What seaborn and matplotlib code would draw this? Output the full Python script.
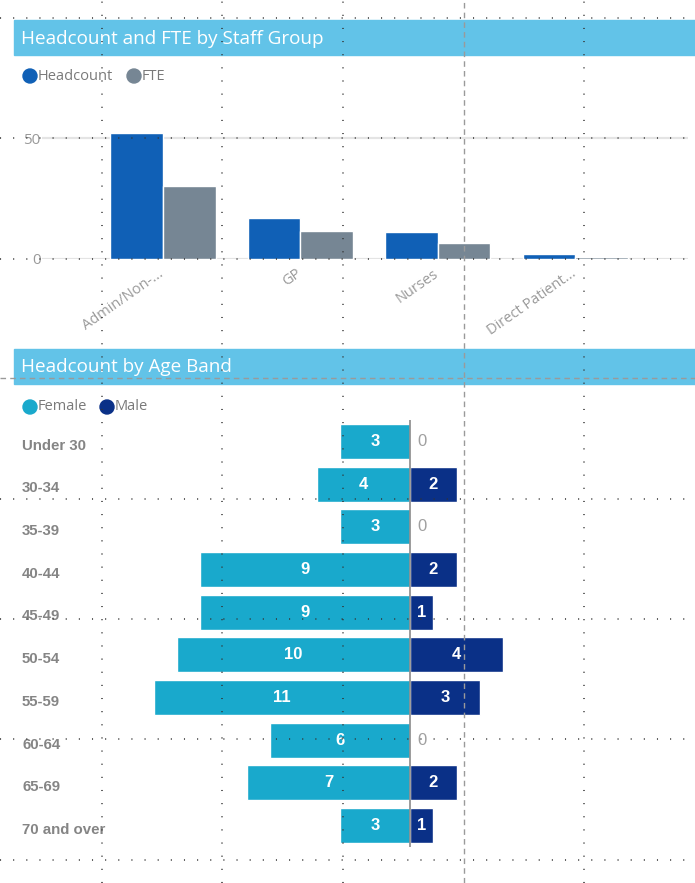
import numpy as np
import pandas as pd
import matplotlib
matplotlib.use("Agg")
import matplotlib.pyplot as plt
from matplotlib.patches import Rectangle, Circle
from matplotlib.lines import Line2D
import seaborn as sns

# ---- data -------------------------------------------------------------
staff_groups = ["Admin/Non-...", "GP", "Nurses", "Direct Patient..."]
headcount = [52, 17, 11, 2]
fte = [30.2, 11.5, 6.8, 0.7]

age_bands = ["Under 30", "30-34", "35-39", "40-44", "45-49",
             "50-54", "55-59", "60-64", "65-69", "70 and over"]
female = [3, 4, 3, 9, 9, 10, 11, 6, 7, 3]
male = [0, 2, 0, 2, 1, 4, 3, 0, 2, 1]

# ---- styling ----------------------------------------------------------
sns.set_theme(style="white")
plt.rcParams["font.family"] = ["Open Sans", "DejaVu Sans"]

W, H = 695, 883
C_HEAD = "#1060B6"
C_FTE = "#768694"
C_FEMALE = "#19A9CC"
C_MALE = "#0A3087"
C_BAR = "#62C3E8"

fig = plt.figure(figsize=(W / 100, H / 100), dpi=100)


def fx(px):
    return px / W


def fy(py):
    return 1 - py / H


def ax_rect(left, top, right, bottom):
    return [fx(left), fy(bottom), fx(right) - fx(left), fy(top) - fy(bottom)]


def title_bar(top, bottom, text):
    fig.add_artist(Rectangle((fx(14), fy(bottom)), fx(W) - fx(14), fy(top) - fy(bottom),
                             transform=fig.transFigure, color=C_BAR, zorder=1))
    fig.text(fx(21), fy((top + bottom) / 2 + 1), text, color="white", fontsize=13.6,
             va="center", ha="left", zorder=2)


def legend_item(x, y, color, label):
    fig.add_artist(Circle((x, H - y), 7, transform=None, color=color, zorder=2))
    fig.text(fx(x + 8), fy(y), label, color="#7A7A7A", fontsize=10.5,
             va="center", ha="left")


# ---- top panel: headcount and FTE by staff group ----------------------
title_bar(20, 55, "Headcount and FTE by Staff Group")
legend_item(30, 76, C_HEAD, "Headcount")
legend_item(134, 76, C_FTE, "FTE")

staff_df = pd.DataFrame({
    "group": staff_groups * 2,
    "measure": ["Headcount"] * 4 + ["FTE"] * 4,
    "value": headcount + fte,
})

ax1 = fig.add_axes(ax_rect(42, 110, 688, 259))
sns.barplot(data=staff_df, x="group", y="value", hue="measure",
            palette=[C_HEAD, C_FTE], width=0.765, saturation=1,
            legend=False, ax=ax1, zorder=3)
ax1.set_xlim(-0.88, 3.82)
ax1.set_ylim(0, (259 - 110) / 2.42)
ax1.set_yticks([0, 50])
ax1.yaxis.grid(True, color="#E4E4E4", lw=1.6)
ax1.set_axisbelow(True)
for s in ax1.spines.values():
    s.set_visible(False)
ax1.set_xlabel("")
ax1.set_ylabel("")
ax1.tick_params(axis="y", length=0, pad=1, labelcolor="#9A9A9A", labelsize=11)
ax1.tick_params(axis="x", length=0, pad=5, labelcolor="#9A9A9A", labelsize=10.5)
ax1.set_xticks(range(len(staff_groups)))
ax1.set_xticklabels(staff_groups, rotation=35, ha="right", rotation_mode="anchor")
for lbl in ax1.get_xticklabels():
    lbl.set_x(lbl.get_position()[0])
ax1.xaxis.set_tick_params(which="major")
import matplotlib.transforms as mtrans
offset = mtrans.ScaledTranslation(-5 / 100, 0, fig.dpi_scale_trans)
for lbl in ax1.get_xticklabels():
    lbl.set_transform(lbl.get_transform() + offset)

# ---- bottom panel: headcount by age band -------------------------------
title_bar(349, 384, "Headcount by Age Band")
legend_item(30, 407, C_FEMALE, "Female")
legend_item(107, 407, C_MALE, "Male")

age_df = pd.DataFrame({"band": age_bands,
                       "female": [-v for v in female],
                       "male": male})

ax2 = fig.add_axes(ax_rect(130, 420, 690, 847))
sns.barplot(data=age_df, y="band", x="female", orient="h", color=C_FEMALE,
            width=0.82, saturation=1, order=age_bands, ax=ax2)
sns.barplot(data=age_df, y="band", x="male", orient="h", color=C_MALE,
            width=0.82, saturation=1, order=age_bands, ax=ax2)
ax2.set_xlim(-12.02, 12.02)
ax2.set_ylim(len(age_bands) - 0.5, -0.5)
ax2.axvline(0, color="#8A8A8A", lw=1.2, zorder=5)
for s in ax2.spines.values():
    s.set_visible(False)
ax2.set_xticks([])
ax2.set_yticks([])
ax2.set_xlabel("")
ax2.set_ylabel("")
ax2.patch.set_alpha(0)

lab_font = ["Liberation Sans", "DejaVu Sans"]
x_label = -12.02 - 108 / 23.3
for i, band in enumerate(age_bands):
    ax2.text(x_label, i + 0.1, band, color="#858585", fontsize=10.8,
             fontweight="bold", family=lab_font, va="center", ha="left")
    f = female[i]
    ax2.text(-f / 2, i, str(f), color="white", fontsize=12, fontweight="bold",
             family=lab_font, va="center", ha="center", zorder=6)
    m = male[i]
    if m > 0:
        ax2.text(m / 2, i, str(m), color="white", fontsize=12, fontweight="bold",
                 family=lab_font, va="center", ha="center", zorder=6)
    else:
        ax2.text(0.3, i, "0", color="#A0A0A0", fontsize=12,
                 family=lab_font, va="center", ha="left", zorder=6)

# ---- layout guide grid -------------------------------------------------
dot = (0, (0.7, 7.9))
for x in [102, 222, 343, 584]:
    fig.add_artist(Line2D([fx(x), fx(x)], [0, 1], transform=fig.transFigure,
                          color="#333333", lw=1.1, ls=dot, zorder=20))
for y in [18, 138, 259, 499, 619, 739, 860]:
    fig.add_artist(Line2D([0, 1], [fy(y), fy(y)], transform=fig.transFigure,
                          color="#333333", lw=1.1, ls=dot, zorder=20))
fig.add_artist(Line2D([fx(464), fx(464)], [0, 1], transform=fig.transFigure,
                      color="#9A9A9A", lw=1.0, ls=(0, (4, 3)), zorder=20))
fig.add_artist(Line2D([0, 1], [fy(378), fy(378)], transform=fig.transFigure,
                      color="#9A9A9A", lw=1.0, ls=(0, (4, 3)), zorder=20))

fig.savefig("out.png", dpi=100)
